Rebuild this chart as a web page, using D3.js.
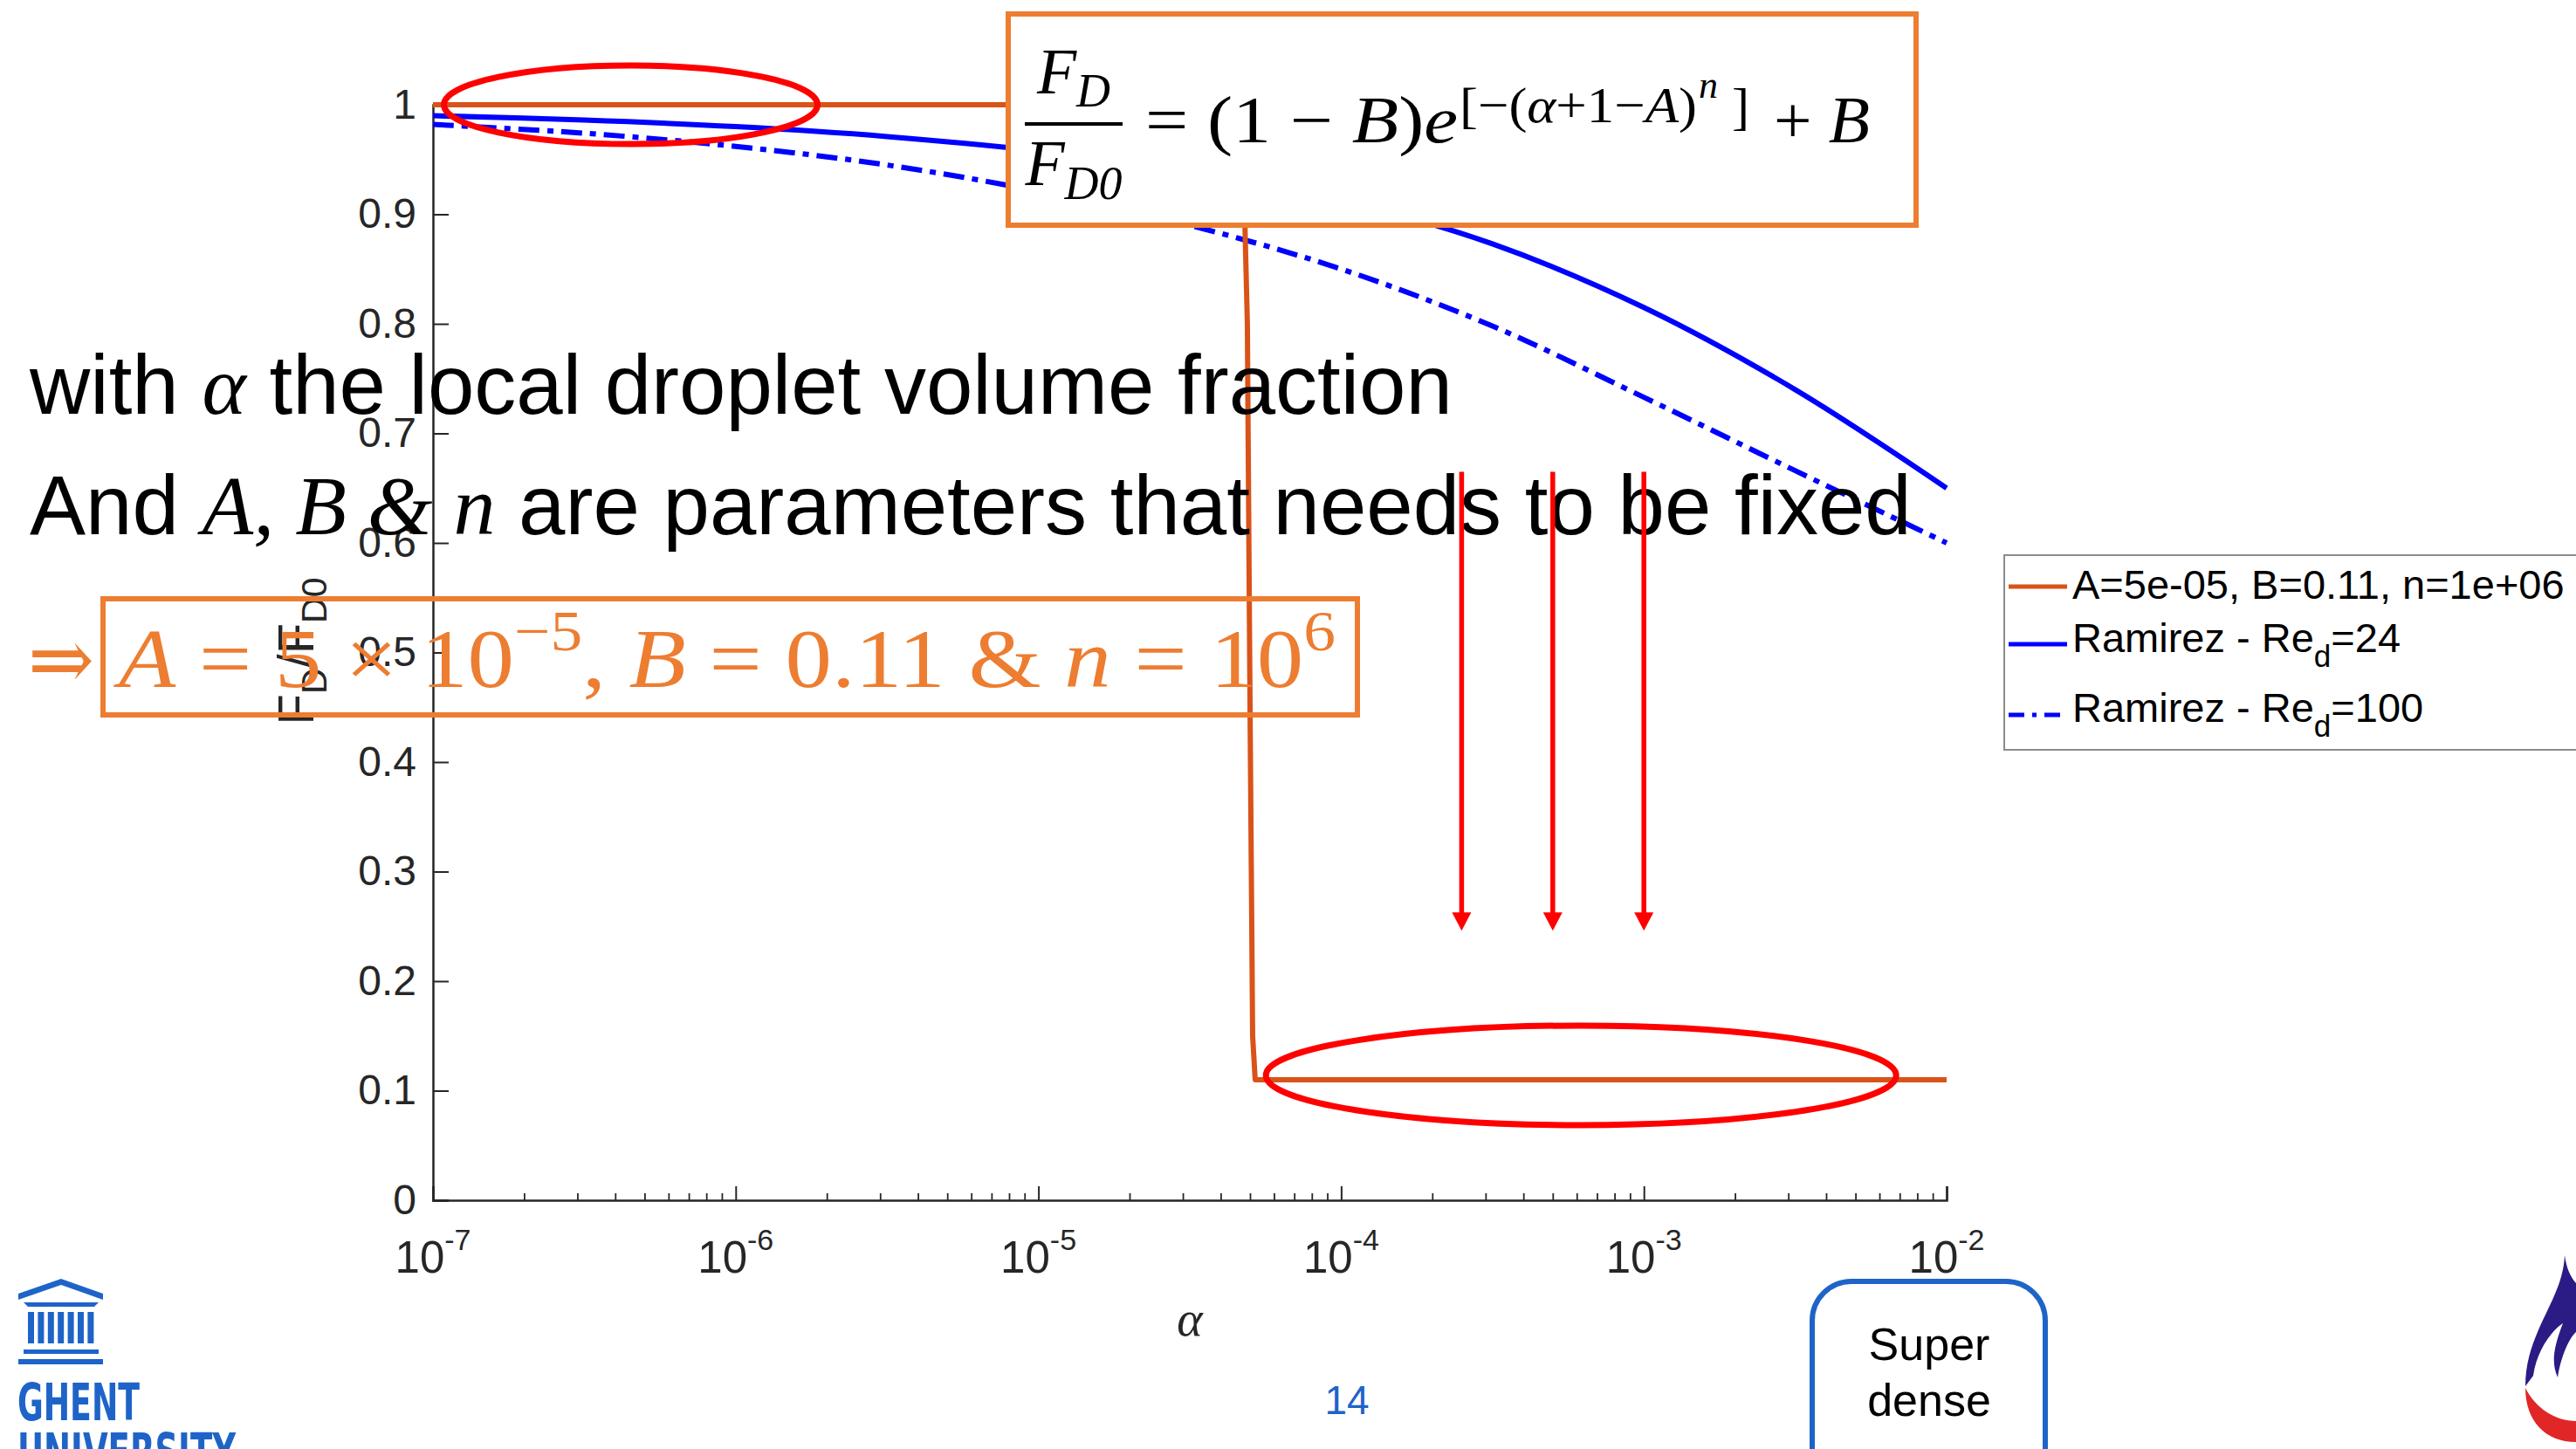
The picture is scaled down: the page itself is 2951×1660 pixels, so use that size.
<!DOCTYPE html>
<html>
<head>
<meta charset="utf-8">
<script src="https://cdn.jsdelivr.net/npm/d3@7"></script>
<style>
  html, body { margin: 0; padding: 0; background: #fff; }
  svg { display: block; }
</style>
</head>
<body>
<div id="app"></div>
<script>
const W = 2951, H = 1660

// values
const alphaFit = [1e-7, 4.6e-5, 4.75e-5, 4.9e-5, 5.0e-5, 5.1e-5, 5.2e-5, 1e-2]
const fdFit = [1, 1, 0.95, 0.8, 0.45, 0.15, 0.11, 0.11]

const alphaRamirez = [1e-7, 3.16e-7, 1e-6, 3.16e-6, 1e-5, 3.16e-5, 1e-4, 3.16e-4, 1e-3, 3.16e-3, 1e-2]
const fdRe24 = [0.990, 0.986, 0.980, 0.971, 0.958, 0.940, 0.913, 0.873, 0.815, 0.740, 0.650]
const fdRe100 = [0.982, 0.974, 0.962, 0.945, 0.921, 0.890, 0.850, 0.798, 0.733, 0.666, 0.600]

const legendLabels = [
  ['A=5e-05, B=0.11, n=1e+06', ''],
  ['Ramirez - Re', 'd', '=24'],
  ['Ramirez - Re', 'd', '=100'],
]

const yTicks = [0, 0.1, 0.2, 0.3, 0.4, 0.5, 0.6, 0.7, 0.8, 0.9, 1]
const yTickLabels = ['0', '0.1', '0.2', '0.3', '0.4', '0.5', '0.6', '0.7', '0.8', '0.9', '1']
const xTicks = [1e-7, 1e-6, 1e-5, 1e-4, 1e-3, 1e-2]
const xTickExp = ['-7', '-6', '-5', '-4', '-3', '-2']

// annotation anchors (in data units)
const arrowAlphas = [2.5e-4, 5e-4, 1e-3]
const arrowFrom = 0.665, arrowTo = 0.246

const orange = '#D95319', blue = '#0000FF', slideOrange = '#ED7D31', ugBlue = '#1E64C8'
const axisCol = '#262626'

const plot = {left: 496, right: 2230, top: 120, bottom: 1375}

const svg = d3.select('#app').append('svg').attr('width', W).attr('height', H)
svg.append('rect').attr('width', W).attr('height', H).attr('fill', '#fff')

const x = d3.scaleLog().domain([1e-7, 1e-2]).range([plot.left, plot.right])
const y = d3.scaleLinear().domain([0, 1]).range([plot.bottom, plot.top])

// ---- axes
const gy = svg.append('g').attr('transform', `translate(${plot.left},0)`)
  .call(d3.axisLeft(y).tickValues(yTicks).tickSize(-18).tickPadding(19)
    .tickFormat((d, i) => yTickLabels[i]))
gy.select('.domain').attr('stroke', axisCol).attr('stroke-width', 2.5)
gy.selectAll('.tick line').attr('stroke', axisCol).attr('stroke-width', 2)
gy.selectAll('.tick text').attr('fill', axisCol)
  .style('font', '48px "Liberation Sans", Arial, sans-serif')

const minor = []
for (let k = -7; k < -2; k++) for (let m = 2; m < 10; m++) minor.push(m * Math.pow(10, k))

const gxMinor = svg.append('g').attr('transform', `translate(0,${plot.bottom})`)
  .call(d3.axisBottom(x).tickValues(minor).tickSize(-8).tickFormat(''))
gxMinor.select('.domain').remove()
gxMinor.selectAll('.tick line').attr('stroke', axisCol).attr('stroke-width', 1.8)

const gx = svg.append('g').attr('transform', `translate(0,${plot.bottom})`)
  .call(d3.axisBottom(x).tickValues(xTicks).tickSize(-16).tickFormat(''))
gx.select('.domain').attr('stroke', axisCol).attr('stroke-width', 2.5)
gx.selectAll('.tick line').attr('stroke', axisCol).attr('stroke-width', 2)

const xl = svg.append('g').selectAll('text').data(xTicks).join('text')
  .attr('x', d => x(d)).attr('y', 1458)
  .attr('text-anchor', 'middle').attr('fill', axisCol)
  .style('font-family', '"Liberation Sans", Arial, sans-serif')
xl.append('tspan').style('font-size', '51px').text('10')
xl.append('tspan').style('font-size', '34px').attr('dy', -26).text((d, i) => xTickExp[i])

svg.append('text').attr('x', (plot.left + plot.right) / 2).attr('y', 1530)
  .attr('text-anchor', 'middle').attr('fill', axisCol)
  .style('font', 'italic 56px "Liberation Serif", serif').text('α')

const yLab = svg.append('text').attr('transform', 'translate(359,746) rotate(-90)')
  .attr('text-anchor', 'middle').attr('fill', axisCol)
  .style('font-family', '"Liberation Sans", Arial, sans-serif').style('font-size', '58px')
yLab.append('tspan').text('F')
yLab.append('tspan').attr('dy', 15).style('font-size', '41px').text('D')
yLab.append('tspan').attr('dy', -15).text('/F')
yLab.append('tspan').attr('dy', 15).style('font-size', '41px').text('D0')

// ---- series
const line = d3.line().x(d => x(d[0])).y(d => y(d[1]))
const smooth = d3.line().x(d => x(d[0])).y(d => y(d[1])).curve(d3.curveCatmullRom.alpha(0.5))

svg.append('path').attr('d', smooth(d3.zip(alphaRamirez, fdRe24)))
  .attr('fill', 'none').attr('stroke', blue).attr('stroke-width', 6)
svg.append('path').attr('d', smooth(d3.zip(alphaRamirez, fdRe100)))
  .attr('fill', 'none').attr('stroke', blue).attr('stroke-width', 6)
  .attr('stroke-dasharray', '24,9,7,9')
svg.append('path').attr('d', line(d3.zip(alphaFit, fdFit)))
  .attr('fill', 'none').attr('stroke', orange).attr('stroke-width', 6)
  .attr('stroke-linejoin', 'round')

// ---- slide text over the chart
const sans = '"Liberation Sans", Arial, sans-serif'
const serifI = 'italic 96px "Liberation Serif", serif'

const t1 = svg.append('text').attr('x', 34).attr('y', 474).attr('fill', '#000')
  .style('font', `96px ${sans}`)
t1.append('tspan').text('with ')
t1.append('tspan').style('font', serifI).text('α')
t1.append('tspan').text(' the local droplet volume fraction')

const t2 = svg.append('text').attr('x', 34).attr('y', 612).attr('fill', '#000')
  .style('font', `96px ${sans}`)
t2.append('tspan').text('And ')
t2.append('tspan').style('font', serifI).text('A, B & n')
t2.append('tspan').text(' are parameters that needs to be fixed')

// orange conclusion line
svg.append('text').attr('x', 32).attr('y', 790).attr('fill', slideOrange)
  .attr('textLength', 76).attr('lengthAdjust', 'spacingAndGlyphs')
  .style('font', '100px "DejaVu Serif", serif').text('⇒')
svg.append('rect').attr('x', 118).attr('y', 686).attr('width', 1437).attr('height', 133)
  .attr('fill', 'none').attr('stroke', slideOrange).attr('stroke-width', 6)
const t3 = svg.append('text').attr('x', 136).attr('y', 787).attr('fill', slideOrange)
  .attr('textLength', 1394).attr('lengthAdjust', 'spacingAndGlyphs')
  .style('font', '96px "Liberation Serif", serif')
t3.append('tspan').style('font-style', 'italic').text('A')
t3.append('tspan').text(' = 5 × 10')
t3.append('tspan').attr('dy', -42).style('font-size', '66px').text('−5')
t3.append('tspan').attr('dy', 42).text(', ')
t3.append('tspan').style('font-style', 'italic').text('B')
t3.append('tspan').text(' = 0.11 & ')
t3.append('tspan').style('font-style', 'italic').text('n')
t3.append('tspan').text(' = 10')
t3.append('tspan').attr('dy', -42).style('font-size', '66px').text('6')

// red highlight ellipses and arrows
const red = '#FF0000'
svg.append('ellipse').attr('cx', x(4.5e-7)).attr('cy', y(1.0)).attr('rx', 214).attr('ry', 45)
  .attr('fill', 'none').attr('stroke', red).attr('stroke-width', 7)
svg.append('ellipse').attr('cx', x(6.2e-4)).attr('cy', y(0.114)).attr('rx', 361).attr('ry', 57)
  .attr('fill', 'none').attr('stroke', red).attr('stroke-width', 7)

const arrows = svg.append('g').selectAll('g').data(arrowAlphas).join('g')
arrows.append('line').attr('x1', d => x(d)).attr('x2', d => x(d))
  .attr('y1', y(arrowFrom)).attr('y2', y(arrowTo) - 16)
  .attr('stroke', red).attr('stroke-width', 5.5)
arrows.append('path')
  .attr('d', d => `M${x(d) - 11},${y(arrowTo) - 21} L${x(d) + 11},${y(arrowTo) - 21} L${x(d)},${y(arrowTo)} Z`)
  .attr('fill', red)

// formula box
svg.append('rect').attr('x', 1155).attr('y', 16).attr('width', 1040).attr('height', 242)
  .attr('fill', '#fff').attr('stroke', slideOrange).attr('stroke-width', 6)
const mathF = '"Liberation Serif", serif'
const f = svg.append('g').attr('fill', '#000').style('font-family', mathF)
const num = f.append('text').attr('x', 1230).attr('y', 107).attr('text-anchor', 'middle')
num.append('tspan').style('font', `italic 74px ${mathF}`).text('F')
num.append('tspan').attr('dy', 15).style('font', `italic 54px ${mathF}`).text('D')
f.append('line').attr('x1', 1174).attr('x2', 1286).attr('y1', 142).attr('y2', 142)
  .attr('stroke', '#000').attr('stroke-width', 4)
const den = f.append('text').attr('x', 1230).attr('y', 212).attr('text-anchor', 'middle')
den.append('tspan').style('font', `italic 74px ${mathF}`).text('F')
den.append('tspan').attr('dy', 16).style('font', `italic 54px ${mathF}`).text('D0')
const rhs = f.append('text').attr('x', 1312).attr('y', 163).style('font-size', '76px')
  .attr('textLength', 358).attr('lengthAdjust', 'spacingAndGlyphs')
rhs.append('tspan').text('= (1 − ')
rhs.append('tspan').style('font-style', 'italic').text('B')
rhs.append('tspan').text(')')
rhs.append('tspan').style('font-style', 'italic').text('e')
const ex = f.append('text').attr('x', 1672).attr('y', 140).style('font-size', '58px')
  .attr('textLength', 272).attr('lengthAdjust', 'spacingAndGlyphs')
ex.append('tspan').text('[−(')
ex.append('tspan').style('font-style', 'italic').text('α')
ex.append('tspan').text('+1−')
ex.append('tspan').style('font-style', 'italic').text('A')
ex.append('tspan').text(')')
f.append('text').attr('x', 1946).attr('y', 112).style('font', `italic 44px ${mathF}`).text('n')
f.append('text').attr('x', 1984).attr('y', 142).style('font-size', '60px').text(']')
const pl = f.append('text').attr('x', 2032).attr('y', 163).style('font-size', '76px')
  .attr('textLength', 110).attr('lengthAdjust', 'spacingAndGlyphs')
pl.append('tspan').text('+ ')
pl.append('tspan').style('font-style', 'italic').text('B')

// ---- legend
const lg = svg.append('g')
lg.append('rect').attr('x', 2296).attr('y', 636).attr('width', 700).attr('height', 223)
  .attr('fill', '#fff').attr('stroke', '#8c8c8c').attr('stroke-width', 2)
const legendStyle = [
  {color: orange, dash: null, ly: 672, ty: 686},
  {color: blue, dash: null, ly: 738, ty: 747},
  {color: blue, dash: '18,9,5,9', ly: 819, ty: 827},
]
legendStyle.forEach((s, i) => {
  lg.append('line').attr('x1', 2301).attr('x2', 2368).attr('y1', s.ly).attr('y2', s.ly)
    .attr('stroke', s.color).attr('stroke-width', 5).attr('stroke-dasharray', s.dash)
  const t = lg.append('text').attr('x', 2374).attr('y', s.ty).attr('fill', '#000')
    .style('font', `47px ${sans}`)
  const parts = legendLabels[i]
  t.append('tspan').text(parts[0])
  if (parts.length > 2) {
    t.append('tspan').attr('dy', 17).style('font-size', '35px').text(parts[1])
    t.append('tspan').attr('dy', -17).text(parts[2])
  }
})

// ---- slide furniture
svg.append('text').attr('x', 1543).attr('y', 1620).attr('text-anchor', 'middle')
  .attr('fill', ugBlue).style('font', `46px ${sans}`).text('14')

svg.append('rect').attr('x', 2076).attr('y', 1468).attr('width', 267).attr('height', 260)
  .attr('rx', 45).attr('fill', '#fff').attr('stroke', ugBlue).attr('stroke-width', 6)
svg.append('text').attr('x', 2210).attr('y', 1558).attr('text-anchor', 'middle')
  .style('font', `52px ${sans}`).text('Super')
svg.append('text').attr('x', 2210).attr('y', 1622).attr('text-anchor', 'middle')
  .style('font', `52px ${sans}`).text('dense')

// UGent logo
const logo = svg.append('g').attr('fill', ugBlue)
logo.append('path').attr('d', 'M21,1482 L70,1465 L118,1482 L118,1489 L70,1472 L21,1489 Z')
logo.append('path').attr('d', 'M27,1492 L113,1492 L108,1497 L32,1497 Z')
d3.range(7).forEach(i => {
  logo.append('rect').attr('x', 32 + i * 11.4).attr('y', 1503).attr('width', 7).attr('height', 36)
})
logo.append('rect').attr('x', 27).attr('y', 1546).attr('width', 86).attr('height', 5)
logo.append('rect').attr('x', 21).attr('y', 1557).attr('width', 97).attr('height', 6)
logo.append('text').attr('x', 20).attr('y', 1627).attr('textLength', 140)
  .attr('lengthAdjust', 'spacingAndGlyphs')
  .style('font', 'bold 58px "DejaVu Sans Condensed", "Liberation Sans Narrow", sans-serif').text('GHENT')
logo.append('text').attr('x', 20).attr('y', 1684).attr('textLength', 250)
  .attr('lengthAdjust', 'spacingAndGlyphs')
  .style('font', 'bold 58px "DejaVu Sans Condensed", "Liberation Sans Narrow", sans-serif').text('UNIVERSITY')

// flame logo, cut off at right edge
svg.append('path')
  .attr('d', 'M2938,1438 C2936,1490 2893,1525 2893,1588 L2902,1576 C2906,1548 2922,1525 2936,1516 C2926,1542 2922,1560 2930,1578 C2934,1552 2944,1532 2951,1526 L2951,1470 C2944,1462 2940,1452 2938,1438 Z')
  .attr('fill', '#2B1B84')
svg.append('path')
  .attr('d', 'M2893,1590 C2893,1628 2916,1652 2951,1652 L2951,1628 C2928,1628 2905,1614 2893,1590 Z')
  .attr('fill', '#E02626')
</script>
</body>
</html>
